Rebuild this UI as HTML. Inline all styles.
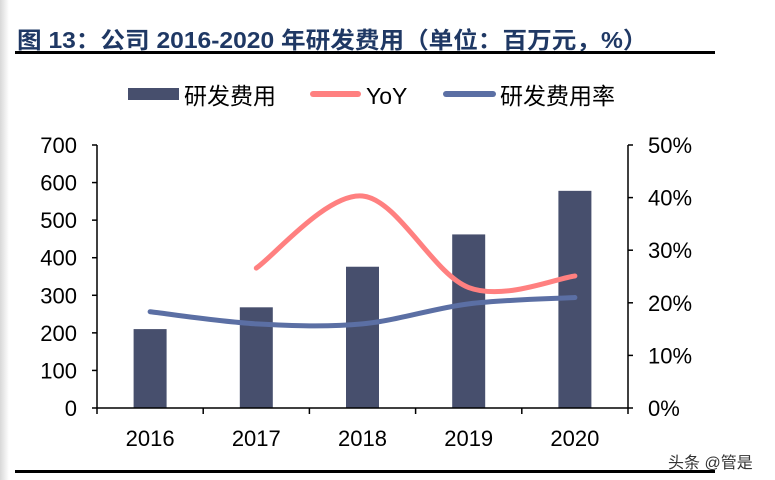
<!DOCTYPE html>
<html><head><meta charset="utf-8"><style>
body{margin:0;width:775px;height:480px;background:#fff;overflow:hidden;position:relative;font-family:"Liberation Sans","Noto Sans CJK SC",sans-serif}
</style></head><body>
<div style="position:absolute;left:0;top:0;width:9px;height:480px;background:linear-gradient(90deg,#d8d8d8,#fff)"></div>
<div style="position:absolute;left:17px;top:26px;font-size:23px;line-height:28px;font-weight:bold;color:#1f3864;font-family:'Liberation Sans','Noto Sans CJK SC',sans-serif;white-space:nowrap;transform:scaleX(1.07);transform-origin:0 0">图 13：公司 2016-2020 年研发费用（单位：百万元，%）</div>
<div style="position:absolute;left:15px;top:77px;width:0;height:0"></div>
<div style="position:absolute;left:15px;top:51px;width:700px;height:3px;background:#000"></div>
<div style="position:absolute;left:15px;top:470px;width:700px;height:3px;background:#000"></div>
<svg width="775" height="480" style="position:absolute;left:0;top:0" id="svg">
<g font-size="23" fill="#000">
<rect x="128" y="88" width="51" height="12" fill="#474f6d"/>
<text x="184" y="104">研发费用</text>
<line x1="313" y1="94" x2="358" y2="94" stroke="#ff8080" stroke-width="6" stroke-linecap="round"/>
<text x="366" y="104">YoY</text>
<line x1="446" y1="94" x2="493" y2="94" stroke="#5b6fa4" stroke-width="6" stroke-linecap="round"/>
<text x="500" y="104">研发费用率</text>
</g>
<text x="668" y="468" font-size="16" fill="#333">头条 @管是</text>
</svg>
<script>
const categories=["2016","2017","2018","2019","2020"];
const rdExpense=[210,268,376,462,578];
const yoy=[null,26.6,40.3,22.9,25.1];
const rdRate=[18.3,16.0,16.0,19.8,21.0];
const leftTicks=[0,100,200,300,400,500,600,700];
const rightTicks=[0,10,20,30,40,50];
const svg=document.getElementById('svg');
const NS='http://www.w3.org/2000/svg';
const X0=97,X1=628,Y0=408,Y1=145;
const bw=(X1-X0)/categories.length;
const xc=i=>X0+bw*(i+0.5);
const yL=v=>Y0-(v/700)*(Y0-Y1);
const yR=v=>Y0-(v/50)*(Y0-Y1);
function mk(tag,attrs,parent){const e=document.createElementNS(NS,tag);for(const k in attrs)e.setAttribute(k,attrs[k]);(parent||svg).appendChild(e);return e;}
rdExpense.forEach((v,i)=>{
const r=mk('rect',{x:xc(i)-16.5,y:yL(v),width:33,height:Y0-yL(v),fill:'#474f6d'});


});
const ax=mk('g',{stroke:'#000','stroke-width':1.5});


mk('line',{x1:X0,y1:Y1,x2:X0,y2:Y0},ax);
mk('line',{x1:X1,y1:Y1,x2:X1,y2:Y0},ax);
mk('line',{x1:X0,y1:Y0,x2:X1,y2:Y0},ax);
leftTicks.forEach(t=>{mk('line',{x1:X0-5,x2:X0,y1:yL(t),y2:yL(t)},ax);
const tx=mk('text',{x:X0-20,y:yL(t)+8,'text-anchor':'end','font-size':22,fill:'#000',stroke:'none'});tx.textContent=t;

});
rightTicks.forEach(t=>{mk('line',{x1:X1,x2:X1+5,y1:yR(t),y2:yR(t)},ax);
const tx=mk('text',{x:X1+20,y:yR(t)+8,'font-size':22,fill:'#000',stroke:'none'});tx.textContent=t+'%';

});
for(let i=0;i<=categories.length;i++){mk('line',{x1:X0+bw*i,x2:X0+bw*i,y1:Y0,y2:Y0+6},ax);}
categories.forEach((c,i)=>{const tx=mk('text',{x:xc(i),y:446,'text-anchor':'middle','font-size':22,fill:'#000',stroke:'none'});tx.textContent=c;

});
function smooth(pts){let d='M'+pts[0][0]+','+pts[0][1];
for(let i=0;i<pts.length-1;i++){const p0=pts[i-1]||pts[i],p1=pts[i],p2=pts[i+1],p3=pts[i+2]||p2;
const c1=[p1[0]+(p2[0]-p0[0])/6,p1[1]+(p2[1]-p0[1])/6],c2=[p2[0]-(p3[0]-p1[0])/6,p2[1]-(p3[1]-p1[1])/6];
d+=' C'+c1+' '+c2+' '+p2;}return d;}
const yp=[];yoy.forEach((v,i)=>{if(v!=null)yp.push([xc(i),yR(v)]);});
const l1=mk('path',{d:smooth(yp),fill:'none',stroke:'#ff8080','stroke-width':5,'stroke-linecap':'round'});


const l2=mk('path',{d:smooth(rdRate.map((v,i)=>[xc(i),yR(v)])),fill:'none',stroke:'#5b6fa4','stroke-width':5,'stroke-linecap':'round'});


</script>
</body></html>
